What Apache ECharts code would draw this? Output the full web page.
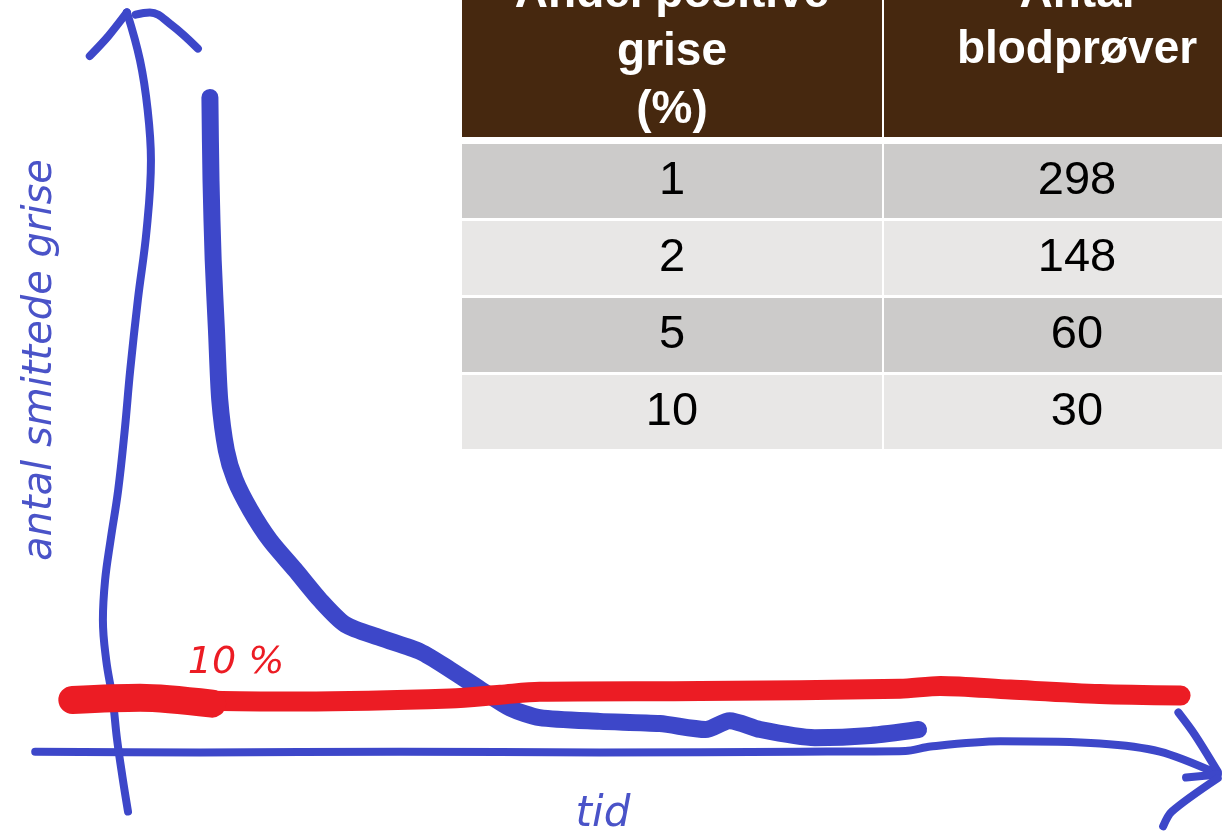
<!DOCTYPE html>
<html>
<head>
<meta charset="utf-8">
<script src="https://cdn.jsdelivr.net/npm/echarts@6/dist/echarts.min.js"></script>
<style>html,body{margin:0;padding:0;background:#fff;}#chart{width:1222px;height:836px;}</style>
</head>
<body>
<div id="chart"></div>
<script>
// ---- Data (x = tid, y = antal smittede grise, arbitrary sketch units) ----
const infectedCurve = [
  [8.4,88.5],[8.5,77.3],[8.7,66.5],[9.0,57.0],[9.3,47.6],[9.9,40.8],[10.7,36.8],
  [12.1,32.7],[13.9,28.6],[16.2,24.6],[18.5,20.5],[20.8,17.2],[24.0,15.4],[27.7,13.5],
  [30.4,11.1],[33.2,8.4],[35.9,5.9],[38.6,4.6],[44.1,4.1],[49.6,3.8],[53.8,3.0],
  [56.0,4.2],[58.8,3.0],[63.8,1.9],[68.9,2.2],[73.3,3.0]
];
const thresholdLine = [
  [-4.2,7.4],[2.0,7.6],[8.9,6.9],[16.7,6.8],[30.4,7.2],[35.0,7.7],[38.6,8.1],
  [53.3,8.2],[71.6,8.5],[75.3,8.9],[81.7,8.4],[89.9,7.8],[97.3,7.6]
];
const thresholdStart = [[-4.2,7.0],[2.0,7.3],[8.6,6.5]];
const yAxisStroke = [
  [0.9,-8.1],[0.4,-3.5],[-0.1,1.6],[-0.5,7.0],[-1.1,12.4],[-1.4,17.8],[-1.2,23.2],
  [-0.7,28.6],[0.0,35.4],[0.6,43.5],[1.1,51.6],[1.8,61.1],[2.6,70.5],[3.0,80.0],
  [2.7,86.8],[2.0,93.5],[0.8,100]
];
const yArrowLeft = [[-2.6,94.1],[-0.9,96.8],[0.8,100]];
const yArrowRight = [[1.6,99.7],[2.9,100.0],[4.8,98.4],[7.3,95.1]];
const xAxisStroke = [
  [-7.6,0],[7.5,-0.1],[25.8,0],[44.1,-0.1],[62.5,0],[72.1,0.1],[74.4,0.7],
  [80.8,1.4],[89.9,1.1],[95.4,0],[100.7,-3.0]
];
const xArrowUpper = [[97.1,5.3],[98.6,2.3],[100.7,-2.7]];
const xArrowMid = [[97.8,-3.5],[100.7,-3.1]];
const xArrowLower = [[95.7,-10.1],[96.5,-8.1],[100.7,-3.6]];

const yLabel = 'antal smittede grise';
const xLabel = 'tid';
const thresholdLabel = '10 %';

// ---- Table data ----
const headerCol1 = ['Andel positive', 'grise', '(%)'];
const headerCol2 = ['Antal', 'blodprøver'];
const pctPositive = ['1', '2', '5', '10'];
const bloodSamples = ['298', '148', '60', '30'];

const BLUE = '#3d47c9';
const RED = '#ec1c24';

function stroke(name, data, color, width, smooth, z) {
  return {
    name, type: 'line', data, smooth: smooth, symbol: 'none', clip: false,
    silent: true, z: z,
    lineStyle: { color, width, cap: 'round', join: 'round' }
  };
}

// ---- Table graphics ----
const colX = [462, 884];
const colW = [420, 385];
const colCenter = [672, 1077];
const tableG = [];
tableG.push({ type: 'rect', shape: { x: colX[0], y: -40, width: colW[0], height: 177 }, style: { fill: '#46280f' } });
tableG.push({ type: 'rect', shape: { x: colX[1], y: -40, width: colW[1], height: 177 }, style: { fill: '#46280f' } });
const hdrFont = 'bold 46px "Liberation Sans", Arial, sans-serif';
headerCol1.forEach((t, i) => {
  tableG.push({ type: 'text', x: colCenter[0], y: 17 + i * 58, style: { text: t, font: hdrFont, fill: '#fff', align: 'center', verticalAlign: 'bottom' } });
});
headerCol2.forEach((t, i) => {
  tableG.push({ type: 'text', x: colCenter[1], y: 17 + i * 56, style: { text: t, font: hdrFont, fill: '#fff', align: 'center', verticalAlign: 'bottom' } });
});
const bodyFont = '47px "Liberation Sans", Arial, sans-serif';
pctPositive.forEach((v, i) => {
  const top = 144 + i * 77;
  const fill = i % 2 === 0 ? '#cccbca' : '#e8e7e6';
  tableG.push({ type: 'rect', shape: { x: colX[0], y: top, width: colW[0], height: 74 }, style: { fill } });
  tableG.push({ type: 'rect', shape: { x: colX[1], y: top, width: colW[1], height: 74 }, style: { fill } });
  tableG.push({ type: 'text', x: colCenter[0], y: top + 37, style: { text: v, font: bodyFont, fill: '#000', align: 'center', verticalAlign: 'middle' } });
  tableG.push({ type: 'text', x: colCenter[1], y: top + 37, style: { text: bloodSamples[i], font: bodyFont, fill: '#000', align: 'center', verticalAlign: 'middle' } });
});

const handFont = (size) => 'italic ' + size + 'px "DejaVu Sans", sans-serif';

const chart = echarts.init(document.getElementById('chart'), null, { renderer: 'canvas' });
chart.setOption({
  backgroundColor: '#ffffff',
  animation: false,
  grid: { left: 9, right: 1, top: 5, bottom: 3, containLabel: false },
  xAxis: { type: 'value', min: -10, max: 101, show: false },
  yAxis: { type: 'value', min: -11, max: 101, show: false },
  series: [
    stroke('x-akse', xAxisStroke, BLUE, 8, 0.3, 2),
    stroke('x-pil-1', xArrowUpper, BLUE, 8, 0.3, 2),
    stroke('x-pil-2', xArrowMid, BLUE, 8, 0, 2),
    stroke('x-pil-3', xArrowLower, BLUE, 8, 0.3, 2),
    stroke('y-akse', yAxisStroke, BLUE, 8, 0.4, 2),
    stroke('y-pil-1', yArrowLeft, BLUE, 8, 0.3, 2),
    stroke('y-pil-2', yArrowRight, BLUE, 8, 0.4, 2),
    stroke('antal smittede grise', infectedCurve, BLUE, 17, 0.25, 3),
    stroke('10 %', thresholdLine, RED, 20, 0.3, 4),
    stroke('10 % start', thresholdStart, RED, 28, 0.3, 4)
  ],
  graphic: [
    { type: 'group', children: tableG, z: 10 },
    { type: 'text', x: 41, y: 360, rotation: Math.PI / 2, z: 10,
      style: { text: yLabel, font: handFont(40), fill: '#4a53c8', align: 'center', verticalAlign: 'middle' } },
    { type: 'text', x: 236, y: 663, z: 10,
      style: { text: thresholdLabel, font: handFont(38), fill: RED, align: 'center', verticalAlign: 'middle' } },
    { type: 'text', x: 603, y: 815, z: 10,
      style: { text: xLabel, font: handFont(42), fill: '#4a53c8', align: 'center', verticalAlign: 'middle' } }
  ]
});
</script>
</body>
</html>
